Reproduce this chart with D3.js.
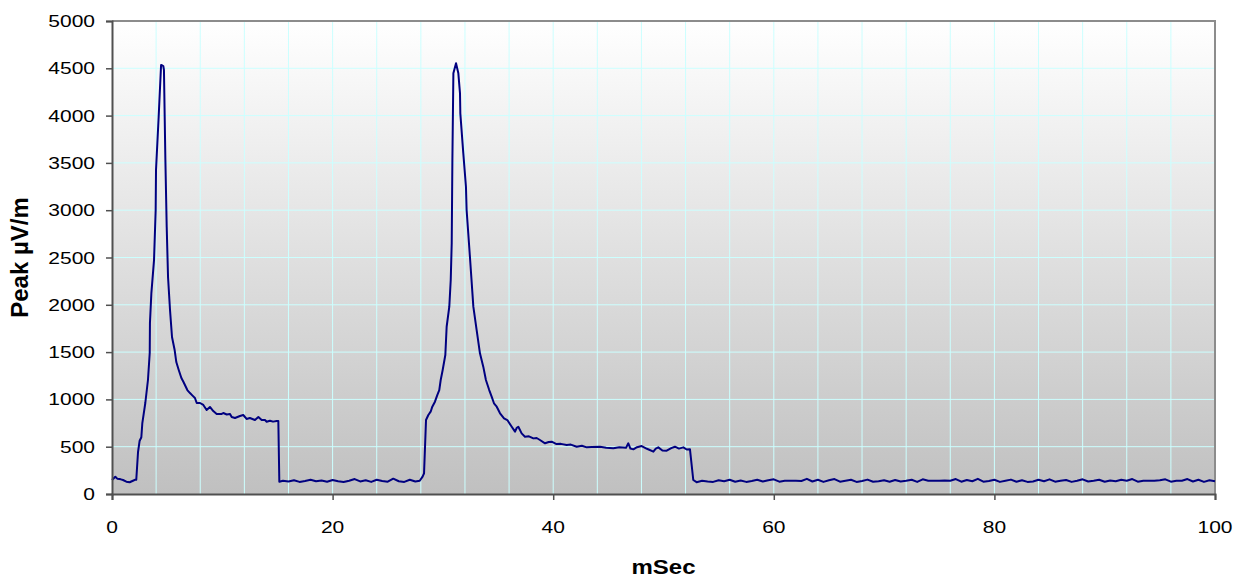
<!DOCTYPE html>
<html>
<head>
<meta charset="utf-8">
<script src="https://cdn.jsdelivr.net/npm/d3@7"></script>
<style>
  html, body { margin: 0; padding: 0; background: #fff; }
  svg { display: block; font-family: "Liberation Sans", Arial, sans-serif; }
</style>
</head>
<body>
<div id="chart"></div>
<script>
// --- data ---
// baseline before first pulse
const baseAT = [0, 0.3, 0.5, 0.8, 1.0, 1.3, 1.6, 1.9, 2.17];
const baseAV = [148, 183, 160, 155, 148, 130, 124, 140, 155];

// first pulse (ms, µV/m)
const pulse1T = [2.2, 2.36, 2.5, 2.66, 2.75, 3.02, 3.26, 3.42, 3.44, 3.57, 3.81, 3.96, 3.99, 4.23, 4.45, 4.55, 4.65, 4.71,
  4.84, 4.96, 5.08, 5.26, 5.44, 5.68, 5.83, 6.05, 6.29, 6.47, 6.83, 7.07, 7.3, 7.52, 7.68, 7.98, 8.28, 8.58, 8.88, 9.18,
  9.49, 9.94, 10.09, 10.4, 10.7, 10.85, 11.15, 11.6, 11.9, 12.2, 12.5, 12.96, 13.27, 13.57, 13.87, 14.02, 14.32, 14.6,
  14.93, 15.08, 15.17];
const pulse1V = [150, 444, 560, 600, 750, 962, 1205, 1490, 1807, 2124, 2473, 3002, 3425, 3985, 4535, 4530, 4524, 4482,
  3530, 2822, 2294, 1945, 1660, 1522, 1395, 1311, 1226, 1187, 1099, 1067, 1040, 1015, 962, 962, 941, 888, 920, 877,
  846, 846, 856, 840, 846, 814, 803, 824, 835, 793, 803, 782, 814, 782, 782, 764, 775, 765,
  771, 771, 130];

// baseline between pulses, sampled every 0.5 ms from 15.5 ms
const baseBStart = 15.5;
const baseBV = [140, 132, 145, 128, 138, 150, 134, 142, 130, 148, 135, 126, 140, 158, 133, 145, 128, 150, 138, 130,
  162, 135, 128, 150, 132];

// second pulse
const pulse2T = [27.9, 28.16, 28.29, 28.47, 28.68, 28.89, 29.04, 29.28, 29.49, 29.67, 29.8, 29.98, 30.22, 30.34, 30.58,
  30.71, 30.8, 30.86, 30.95, 31.19, 31.4, 31.55, 31.58, 31.85, 32.09, 32.15, 32.45, 32.76, 33.06, 33.36, 33.66, 33.9,
  34.2, 34.42, 34.63, 34.88, 35.18, 35.54, 35.84, 36.24, 36.54, 36.7, 36.84, 37.14, 37.44, 37.8, 38.2, 38.5, 38.8,
  39.26, 39.6, 39.86, 40.3, 40.7, 41.22, 41.6, 42.13, 42.6, 43.04, 43.5, 44.24, 44.8, 45.45, 46.0, 46.6, 46.81, 47.0,
  47.27, 47.6, 48.02, 48.5, 49.08, 49.3, 49.53, 49.9, 50.29, 50.7, 51.04, 51.4, 51.8, 52.1, 52.4, 52.7];
const pulse2V = [140, 183, 219, 782, 835, 870, 923, 976, 1046, 1099, 1205, 1311, 1469, 1768, 1980,
  2262, 2653, 3530, 4447, 4553, 4447, 4235, 4024, 3601, 3248, 3002, 2508, 1980, 1733, 1487, 1346, 1205,
  1099, 1029, 959, 923, 853, 800, 782, 711, 659, 700, 711, 641, 606, 610, 588, 592, 571,
  536, 550, 553, 528, 530, 518, 522, 500, 510, 493, 498, 500, 490, 483, 495, 488, 536, 480,
  472, 495, 507, 478, 447, 480, 493, 460, 458, 485, 500, 480, 493, 470, 472, 148];

// baseline after second pulse, sampled every 0.5 ms from 53 ms
const baseCStart = 53;
const baseCV = [125, 140, 132, 128, 145, 135, 150, 130, 142, 128, 138, 150, 132, 145, 155, 130, 140, 140, 140, 138,
  160, 132, 150, 128, 145, 158, 130, 140, 150, 128, 138, 152, 130, 135, 145, 130, 148, 132, 140, 150,
  128, 155, 140, 140, 140, 142, 140, 158, 130, 148, 135, 160, 130, 138, 150, 128, 140, 152, 130, 145,
  128, 132, 150, 135, 155, 130, 140, 148, 128, 140, 155, 132, 140, 150, 130, 142, 135, 150, 140, 158,
  130, 140, 140, 140, 145, 155, 130, 140, 140, 158, 132, 150, 128, 145, 135];

const sampleStep = 0.5;

const xTicks = [0, 20, 40, 60, 80, 100];
const xGrid = d3.range(0, 101, 4);
const yTicks = d3.range(0, 5001, 500);

// --- build series ---
const series = [];
baseAT.forEach((t, i) => series.push([t, baseAV[i]]));
pulse1T.forEach((t, i) => series.push([t, pulse1V[i]]));
baseBV.forEach((v, i) => series.push([baseBStart + i * sampleStep, v]));
pulse2T.forEach((t, i) => series.push([t, pulse2V[i]]));
baseCV.forEach((v, i) => series.push([baseCStart + i * sampleStep, v]));

// --- layout ---
const width = 1245, height = 579;
const margin = { top: 21, right: 30, bottom: 85, left: 112 };
const squash = 0.82; // horizontal text in the reference is flattened vertically

const svg = d3.select('#chart').append('svg')
  .attr('width', width)
  .attr('height', height);

const innerW = width - margin.left - margin.right;
const innerH = height - margin.top - margin.bottom;

const x = d3.scaleLinear().domain([0, 100]).range([0, innerW]);
const y = d3.scaleLinear().domain([0, 5000]).range([innerH, 0]);

const defs = svg.append('defs');
const grad = defs.append('linearGradient')
  .attr('id', 'plot-bg')
  .attr('x1', 0).attr('y1', 0).attr('x2', 0).attr('y2', 1);
grad.append('stop').attr('offset', '0%').attr('stop-color', '#ffffff');
grad.append('stop').attr('offset', '100%').attr('stop-color', '#c0c0c0');

const g = svg.append('g')
  .attr('transform', `translate(${margin.left},${margin.top})`);

g.append('rect')
  .attr('width', innerW)
  .attr('height', innerH)
  .attr('fill', 'url(#plot-bg)');

// gridlines
g.append('g')
  .selectAll('line')
  .data(xGrid.filter(d => d > 0 && d < 100))
  .enter()
  .append('line')
  .attr('x1', d => x(d)).attr('x2', d => x(d))
  .attr('y1', 0).attr('y2', innerH)
  .attr('stroke', '#ccffff')
  .attr('stroke-width', 1);

g.append('g')
  .selectAll('line')
  .data(yTicks.filter(d => d > 0 && d < 5000))
  .enter()
  .append('line')
  .attr('x1', 0).attr('x2', innerW)
  .attr('y1', d => y(d)).attr('y2', d => y(d))
  .attr('stroke', '#ccffff')
  .attr('stroke-width', 1);

// top / right frame
g.append('path')
  .attr('d', `M0,0H${innerW}V${innerH}`)
  .attr('fill', 'none')
  .attr('stroke', '#8c8c8c')
  .attr('stroke-width', 2);

// the trace
const line = d3.line()
  .x(d => x(d[0]))
  .y(d => y(d[1]));

g.append('path')
  .datum(series)
  .attr('d', line)
  .attr('fill', 'none')
  .attr('stroke', '#000080')
  .attr('stroke-width', 2)
  .attr('stroke-linejoin', 'round');

// axes
const xAxis = g.append('g')
  .attr('transform', `translate(0,${innerH})`)
  .call(d3.axisBottom(x).tickValues(xTicks).tickSize(6).tickFormat(''));
const yAxis = g.append('g')
  .call(d3.axisLeft(y).tickValues(yTicks).tickSize(6).tickFormat(''));

[xAxis, yAxis].forEach(a => {
  a.select('.domain').attr('stroke', '#505050').attr('stroke-width', 2);
  a.selectAll('.tick line').attr('stroke', '#505050').attr('stroke-width', 1.5);
});

// tick labels (drawn by hand so they can be flattened like the reference)
g.append('g')
  .selectAll('g')
  .data(xTicks)
  .enter()
  .append('g')
  .attr('transform', d => `translate(${x(d)},${innerH + 39}) scale(1,${squash})`)
  .append('text')
  .attr('text-anchor', 'middle')
  .attr('font-size', '21px')
  .attr('fill', '#000')
  .text(d => d);

g.append('g')
  .selectAll('g')
  .data(yTicks)
  .enter()
  .append('g')
  .attr('transform', d => `translate(-17,${y(d) + 6}) scale(1,${squash})`)
  .append('text')
  .attr('text-anchor', 'end')
  .attr('font-size', '21px')
  .attr('fill', '#000')
  .text(d => d);

// axis titles
svg.append('g')
  .attr('transform', `translate(${margin.left + innerW / 2},574) scale(1,${squash})`)
  .append('text')
  .attr('text-anchor', 'middle')
  .attr('font-size', '24px')
  .attr('font-weight', 'bold')
  .text('mSec');

svg.append('text')
  .attr('transform', `translate(28,${margin.top + innerH / 2}) rotate(-90)`)
  .attr('text-anchor', 'middle')
  .attr('font-size', '24px')
  .attr('font-weight', 'bold')
  .text('Peak µV/m');
</script>
</body>
</html>
